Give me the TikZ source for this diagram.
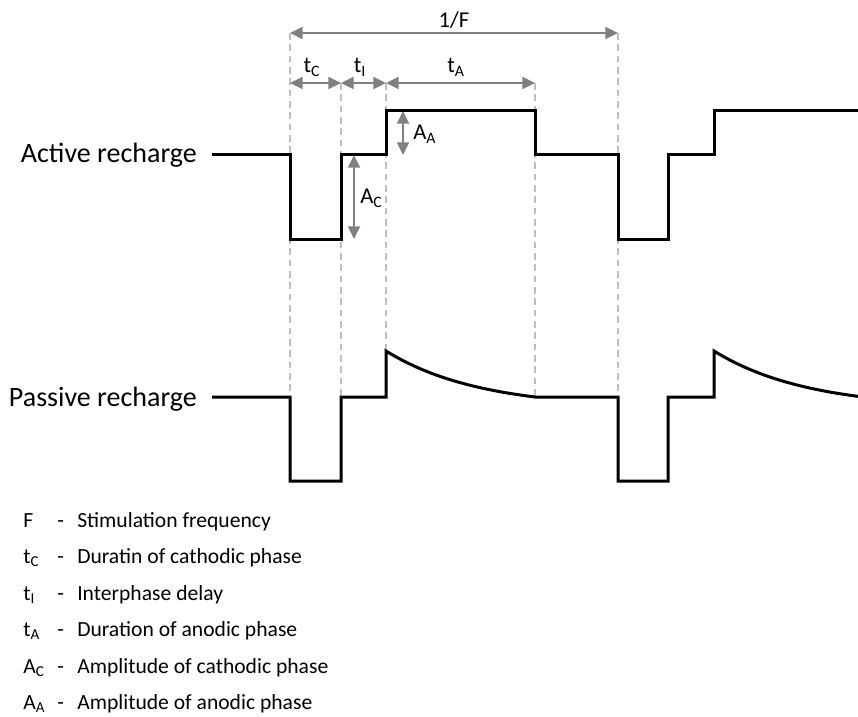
\documentclass[tikz,border=0pt]{standalone}
\usepackage{fontspec}
\setmainfont{Carlito}
\usetikzlibrary{arrows.meta}

\begin{document}
\begin{tikzpicture}[x=0.75pt, y=-0.75pt,
        trace/.style={line width=2.25pt, black},
        guide/.style={black!25, line width=1.5pt, dash pattern=on 5pt off 3.5pt},
        dim/.style={black!50, line width=1.5pt,
            {Triangle[length=9.5pt,width=9pt]}-{Triangle[length=9.5pt,width=9pt]}},
        lbl/.style={font=\fontsize{17}{20}\selectfont, inner sep=0pt},
        big/.style={font=\fontsize{21}{25}\selectfont, inner sep=0pt},
        leg/.style={font=\fontsize{16.2}{19}\selectfont, inner sep=0pt, anchor=base west}]
    \useasboundingbox (0,0) rectangle (858,717);

    % --- 時刻の座標 ---
    \foreach \n/\x in {c0/290, c1/341, i1/386, a1/535, f1/618} {
        \coordinate (\n) at (\x,0);
    }
    \coordinate (rowF) at (0,33);
    \coordinate (rowT) at (0,83);
    \coordinate (pbase) at (0,397);
    \coordinate (ppeak) at (0,351);

    % --- 補助線 (破線) ---
    \draw[guide] (c0 |- rowF) -- (c0 |- pbase);
    \draw[guide] (f1 |- rowF) -- (f1 |- pbase);
    \draw[guide] (c1 |- rowT) -- (c1 |- pbase);
    \draw[guide] (i1 |- rowT) -- (i1 |- ppeak);
    \draw[guide] (a1 |- rowT) -- (a1 |- pbase);

    % --- 寸法矢印 ---
    \draw[dim] (c0 |- rowF) -- (f1 |- rowF);
    \draw[dim] (c0 |- rowT) -- (c1 |- rowT);
    \draw[dim] (c1 |- rowT) -- (i1 |- rowT);
    \draw[dim] (i1 |- rowT) -- (a1 |- rowT);
    \coordinate (aa0) at (403,111);
    \coordinate (aa1) at (403,155);
    \coordinate (ac0) at (354,155);
    \coordinate (ac1) at (354,239);
    \draw[dim] (aa0) -- (aa1);
    \draw[dim] (ac0) -- (ac1);

    % --- ラベル ---
    \node[lbl, anchor=base] (lblF) at (454,28) {1/F};
    \node[lbl, anchor=base] (lbltC) at (312,73) {t\textsubscript{C}};
    \node[lbl, anchor=base] (lbltI) at (360,73) {t\textsubscript{I}};
    \node[lbl, anchor=base] (lbltA) at (456,73) {t\textsubscript{A}};
    \node[lbl, anchor=base west] (lblAA) at (413,140) {A\textsubscript{A}};
    \node[lbl, anchor=base west] (lblAC) at (360,204) {A\textsubscript{C}};

    \node[big, anchor=base east] (act) at (197,162) {Active recharge};
    \node[big, anchor=base east] (pas) at (197,406) {Passive recharge};

    % --- 波形 ---
    \draw[trace] (212,155) -- (290,155) -- (290,239) -- (341,239) -- (341,155)
        -- (386,155) -- (386,111) -- (535,111) -- (535,155) -- (618,155)
        -- (618,239) -- (668,239) -- (668,155) -- (714,155) -- (714,111) -- (858,111);

    % 受動再充電は指数的に戻る
    \draw[trace] (212,397) -- (290,397) -- (290,481) -- (341,481) -- (341,397)
        -- (386,397) -- (386,351)
        -- plot[domain=0:149, samples=40, variable=\s]
            ({386+\s}, {351+46*(1-exp(-1.6*\s/149))/(1-exp(-1.6))})
        -- (618,397) -- (618,481) -- (668,481) -- (668,397) -- (714,397) -- (714,351)
        -- plot[domain=0:144, samples=40, variable=\s]
            ({714+\s}, {351+46*(1-exp(-1.6*\s/149))/(1-exp(-1.6))});

    % --- 凡例 ---
    \foreach \sym/\txt [count=\i] in {F/Stimulation frequency,
            t\textsubscript{C}/Duratin of cathodic phase,
            t\textsubscript{I}/Interphase delay,
            t\textsubscript{A}/Duration of anodic phase,
            A\textsubscript{C}/Amplitude of cathodic phase,
            A\textsubscript{A}/Amplitude of anodic phase} {
        \node[leg] (sym\i) at (23,{527+(\i-1)*36.5}) {\sym};
        \node[leg] (dash\i) at (57,{527+(\i-1)*36.5}) {-};
        \node[leg] (txt\i) at (77,{527+(\i-1)*36.5}) {\txt};
    }
\end{tikzpicture}
\end{document}
